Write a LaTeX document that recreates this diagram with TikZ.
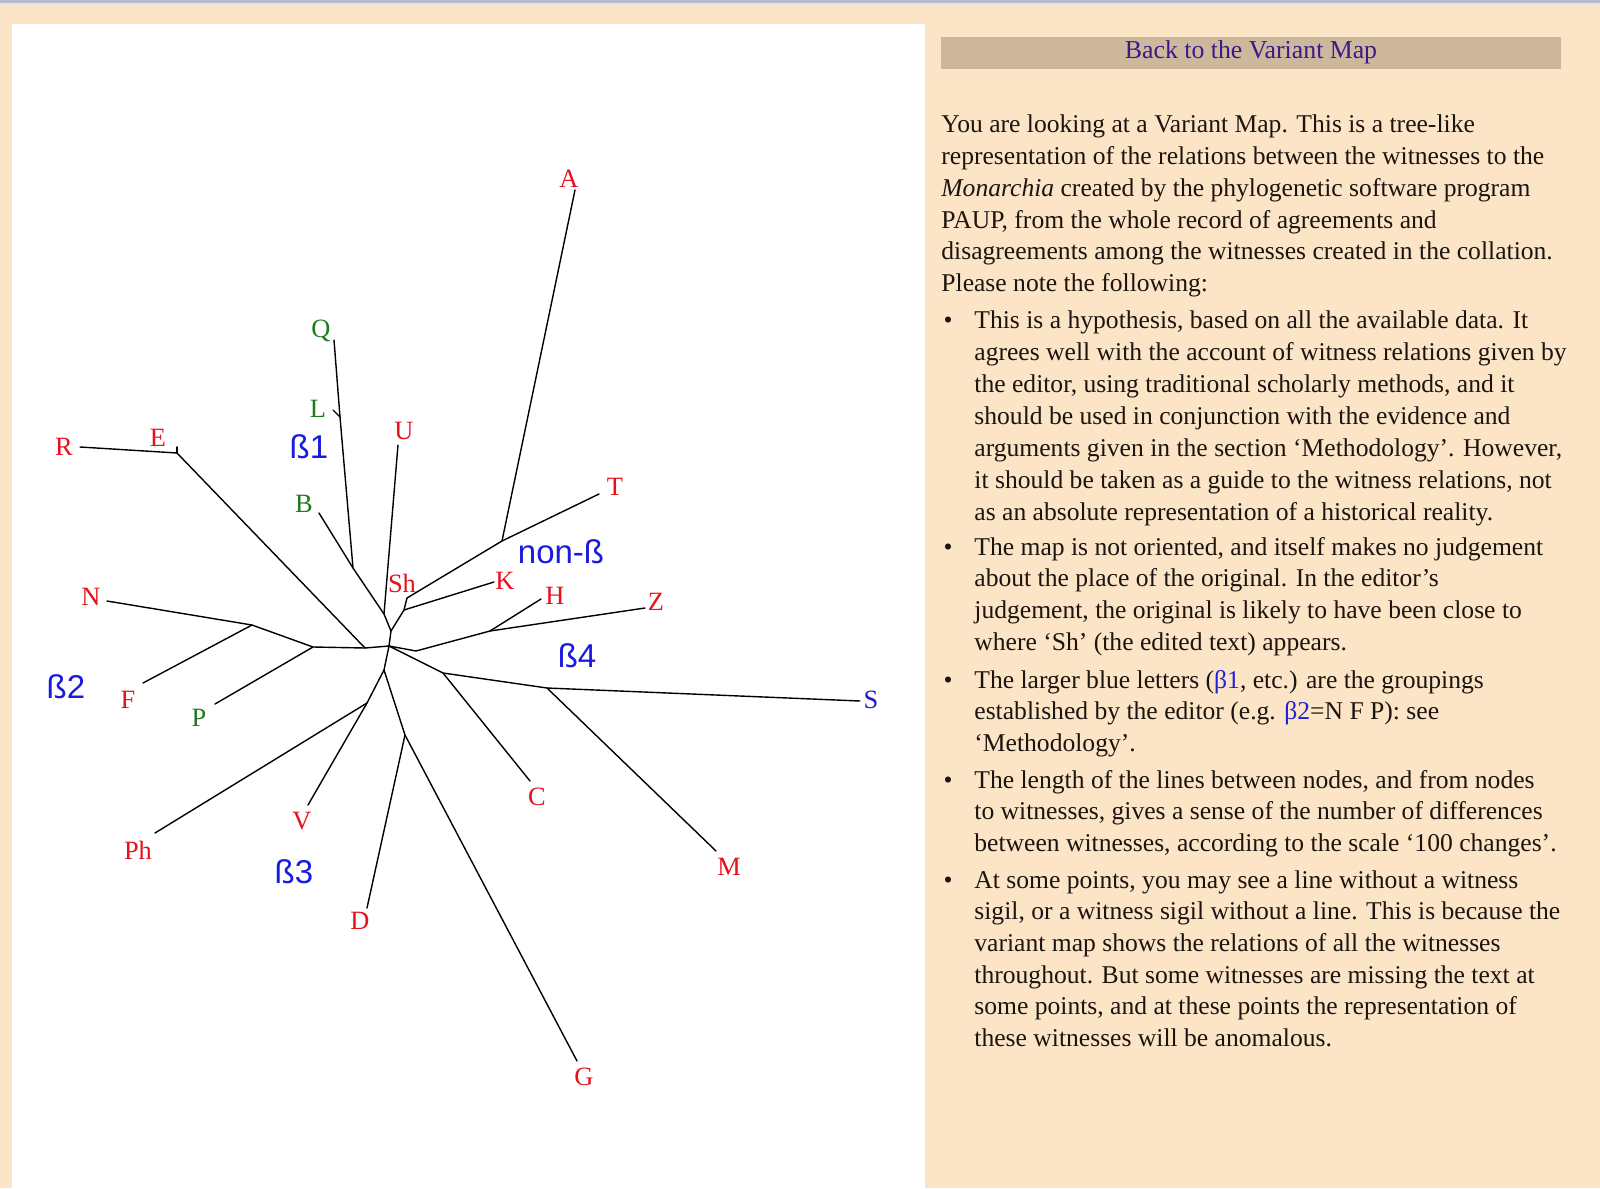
\documentclass[tikz,border=0pt]{standalone}
\usepackage{fontspec}
\setmainfont{Liberation Serif}
\newfontfamily\grpfont{Liberation Sans}
\definecolor{peach}{HTML}{FCE5C6}
\definecolor{bartan}{HTML}{CDB89D}
\definecolor{titlecol}{HTML}{3A1A8A}
\definecolor{leafred}{HTML}{E8101C}
\definecolor{leafgreen}{HTML}{1E7A1E}
\definecolor{leafblue}{HTML}{1A1AD0}
\definecolor{grpblue}{HTML}{1A1AE0}
\definecolor{bodytxt}{HTML}{1C1410}
\definecolor{betablue}{HTML}{2020D8}
\definecolor{topgray}{HTML}{B9BCC6}
\begin{document}
\begin{tikzpicture}[x=0.5pt,y=-0.5pt,
  bodyline/.style={anchor=base west, inner sep=0pt, text=bodytxt, font=\fontsize{12.8}{15}\selectfont},
  bulletmark/.style={anchor=base, inner sep=0pt, text=bodytxt, font=\fontsize{12.8}{15}\selectfont},
  titletext/.style={anchor=base, inner sep=0pt, text=titlecol, font=\fontsize{12.9}{15}\selectfont},
  leafr/.style={inner sep=0pt, text=leafred, font=\fontsize{13.2}{15}\selectfont},
  leafg/.style={inner sep=0pt, text=leafgreen, font=\fontsize{13.2}{15}\selectfont},
  leafb/.style={inner sep=0pt, text=leafblue, font=\fontsize{13.2}{15}\selectfont},
  grp/.style={inner sep=0pt, text=grpblue, font=\grpfont\fontsize{16.5}{19}\selectfont},
  branch/.style={draw=black, line width=0.7pt, line cap=round, line join=round}]

% ---------- background ----------
\useasboundingbox (0,0) rectangle (1600,1188);
\fill[peach] (0,0) rectangle (1600,1188);
\fill[topgray] (0,0) rectangle (1600,3);
\fill[topgray!40] (0,3) rectangle (1600,5);
\fill[white] (12,24) rectangle (925,1188);

% ---------- title bar ----------
\fill[bartan] (941,37) rectangle (1561,69);
\node[titletext] (title) at (1251,59) {Back to the Variant Map};

% ---------- tree coordinates ----------
\coordinate (hub) at (389,646);
\coordinate (b) at (391,631);
\coordinate (a) at (384,614);
\coordinate (nB1) at (353,568);
\coordinate (nL) at (340,417);
\coordinate (Qe) at (334,340);
\coordinate (Le) at (333,410);
\coordinate (Be) at (319,513);
\coordinate (Ue) at (398,445);
\coordinate (nK) at (404,610);
\coordinate (nSh) at (407,598);
\coordinate (nAT) at (502,541);
\coordinate (Ae) at (575,190);
\coordinate (Te) at (599,494);
\coordinate (Ke) at (494,582);
\coordinate (nE) at (365,648);
\coordinate (n1) at (313,647);
\coordinate (n2) at (252,625);
\coordinate (nEj) at (177,453);
\coordinate (Re) at (80,447);
\coordinate (Ee) at (177,447);
\coordinate (Pe) at (215,704);
\coordinate (Ne) at (107,601);
\coordinate (Fe) at (143,683);
\coordinate (d0) at (384,670);
\coordinate (nV) at (367,703);
\coordinate (Ve) at (308,805);
\coordinate (Phe) at (155,833);
\coordinate (nDG) at (405,735);
\coordinate (De) at (367,908);
\coordinate (Ge) at (577,1061);
\coordinate (nZ) at (416,651);
\coordinate (nH) at (490,631);
\coordinate (Ze) at (645,608);
\coordinate (He) at (541,599);
\coordinate (nS) at (443,673);
\coordinate (Ce) at (530,781);
\coordinate (nM) at (547,688);
\coordinate (Se) at (860,701);
\coordinate (Me) at (716,851);

% ---------- branches ----------
\draw[branch] (hub) -- (b) -- (a) -- (nB1) -- (nL) -- (Qe);
\draw[branch] (nL) -- (Le);
\draw[branch] (nB1) -- (Be);
\draw[branch] (a) -- (Ue);
\draw[branch] (b) -- (nK) -- (nSh) -- (nAT) -- (Ae);
\draw[branch] (nAT) -- (Te);
\draw[branch] (nK) -- (Ke);
\draw[branch] (hub) -- (nE) -- (n1) -- (n2) -- (Ne);
\draw[branch] (n2) -- (Fe);
\draw[branch] (n1) -- (Pe);
\draw[branch] (nE) -- (nEj) -- (Re);
\draw[branch] (nEj) -- (Ee);
\draw[branch] (hub) -- (d0) -- (nV) -- (Ve);
\draw[branch] (nV) -- (Phe);
\draw[branch] (d0) -- (nDG) -- (De);
\draw[branch] (nDG) -- (Ge);
\draw[branch] (hub) -- (nZ) -- (nH) -- (Ze);
\draw[branch] (nH) -- (He);
\draw[branch] (hub) -- (nS) -- (Ce);
\draw[branch] (nS) -- (nM) -- (Se);
\draw[branch] (nM) -- (Me);

% ---------- leaf labels ----------
\node[leafr] (lA) at (569,179) {A};
\node[leafr] (lT) at (615,487) {T};
\node[leafr] (lSh) at (402,583) {Sh};
\node[leafr] (lK) at (505,581) {K};
\node[leafr] (lH) at (555,596) {H};
\node[leafr] (lZ) at (656,602) {Z};
\node[leafb] (lS) at (871,700) {S};
\node[leafr] (lM) at (729,867) {M};
\node[leafr] (lC) at (537,797) {C};
\node[leafr] (lG) at (584,1077) {G};
\node[leafr] (lD) at (360,921) {D};
\node[leafr] (lV) at (302,821) {V};
\node[leafr] (lPh) at (138,850) {Ph};
\node[leafg] (lP) at (199,718) {P};
\node[leafr] (lF) at (128,700) {F};
\node[leafr] (lN) at (91,597) {N};
\node[leafr] (lR) at (64,447) {R};
\node[leafr] (lE) at (158,438) {E};
\node[leafg] (lB) at (304,504) {B};
\node[leafg] (lL) at (318,409) {L};
\node[leafg] (lQ) at (321,331) {Q};
\node[leafr] (lU) at (404,431) {U};

% ---------- group labels ----------
\node[grp] (g1) at (309,447) {ß1};
\node[grp] (g2) at (66,687) {ß2};
\node[grp] (g3) at (294,872) {ß3};
\node[grp] (g4) at (577,656) {ß4};
\node[grp] (g0) at (561,552) {non-ß};

% ---------- body text ----------
\node[bodyline] (p1) at (941,133) {You are looking at a Variant Map. This is a tree-like};
\node[bodyline] (p2) at (941,164.7) {representation of the relations between the witnesses to the};
\node[bodyline] (p3) at (941,196.4) {\textit{Monarchia} created by the phylogenetic software program};
\node[bodyline] (p4) at (941,228.1) {PAUP, from the whole record of agreements and};
\node[bodyline] (p5) at (941,259.8) {disagreements among the witnesses created in the collation.};
\node[bodyline] (p6) at (941,291.5) {Please note the following:};

\node[bulletmark] (bu1) at (948,328) {•};
\node[bodyline] (a1) at (974,328) {This is a hypothesis, based on all the available data. It};
\node[bodyline] (a2) at (974,360) {agrees well with the account of witness relations given by};
\node[bodyline] (a3) at (974,392) {the editor, using traditional scholarly methods, and it};
\node[bodyline] (a4) at (974,424) {should be used in conjunction with the evidence and};
\node[bodyline] (a5) at (974,456) {arguments given in the section ‘Methodology’. However,};
\node[bodyline] (a6) at (974,488) {it should be taken as a guide to the witness relations, not};
\node[bodyline] (a7) at (974,520) {as an absolute representation of a historical reality.};

\node[bulletmark] (bu2) at (948,555) {•};
\node[bodyline] (b1) at (974,555) {The map is not oriented, and itself makes no judgement};
\node[bodyline] (b2) at (974,586.7) {about the place of the original. In the editor’s};
\node[bodyline] (b3) at (974,618.4) {judgement, the original is likely to have been close to};
\node[bodyline] (b4) at (974,650) {where ‘Sh’ (the edited text) appears.};

\node[bulletmark] (bu3) at (948,688) {•};
\node[bodyline] (c1) at (974,688) {The larger blue letters ({\color{betablue}β1}, etc.) are the groupings};
\node[bodyline] (c2) at (974,719.5) {established by the editor (e.g. {\color{betablue}β2}=N F P): see};
\node[bodyline] (c3) at (974,751) {‘Methodology’.};

\node[bulletmark] (bu4) at (948,788) {•};
\node[bodyline] (d1) at (974,788) {The length of the lines between nodes, and from nodes};
\node[bodyline] (d2) at (974,819.5) {to witnesses, gives a sense of the number of differences};
\node[bodyline] (d3) at (974,851) {between witnesses, according to the scale ‘100 changes’.};

\node[bulletmark] (bu5) at (948,888) {•};
\node[bodyline] (e1) at (974,888) {At some points, you may see a line without a witness};
\node[bodyline] (e2) at (974,919.7) {sigil, or a witness sigil without a line. This is because the};
\node[bodyline] (e3) at (974,951.4) {variant map shows the relations of all the witnesses};
\node[bodyline] (e4) at (974,983.1) {throughout. But some witnesses are missing the text at};
\node[bodyline] (e5) at (974,1014.8) {some points, and at these points the representation of};
\node[bodyline] (e6) at (974,1046.5) {these witnesses will be anomalous.};
\end{tikzpicture}
\end{document}
